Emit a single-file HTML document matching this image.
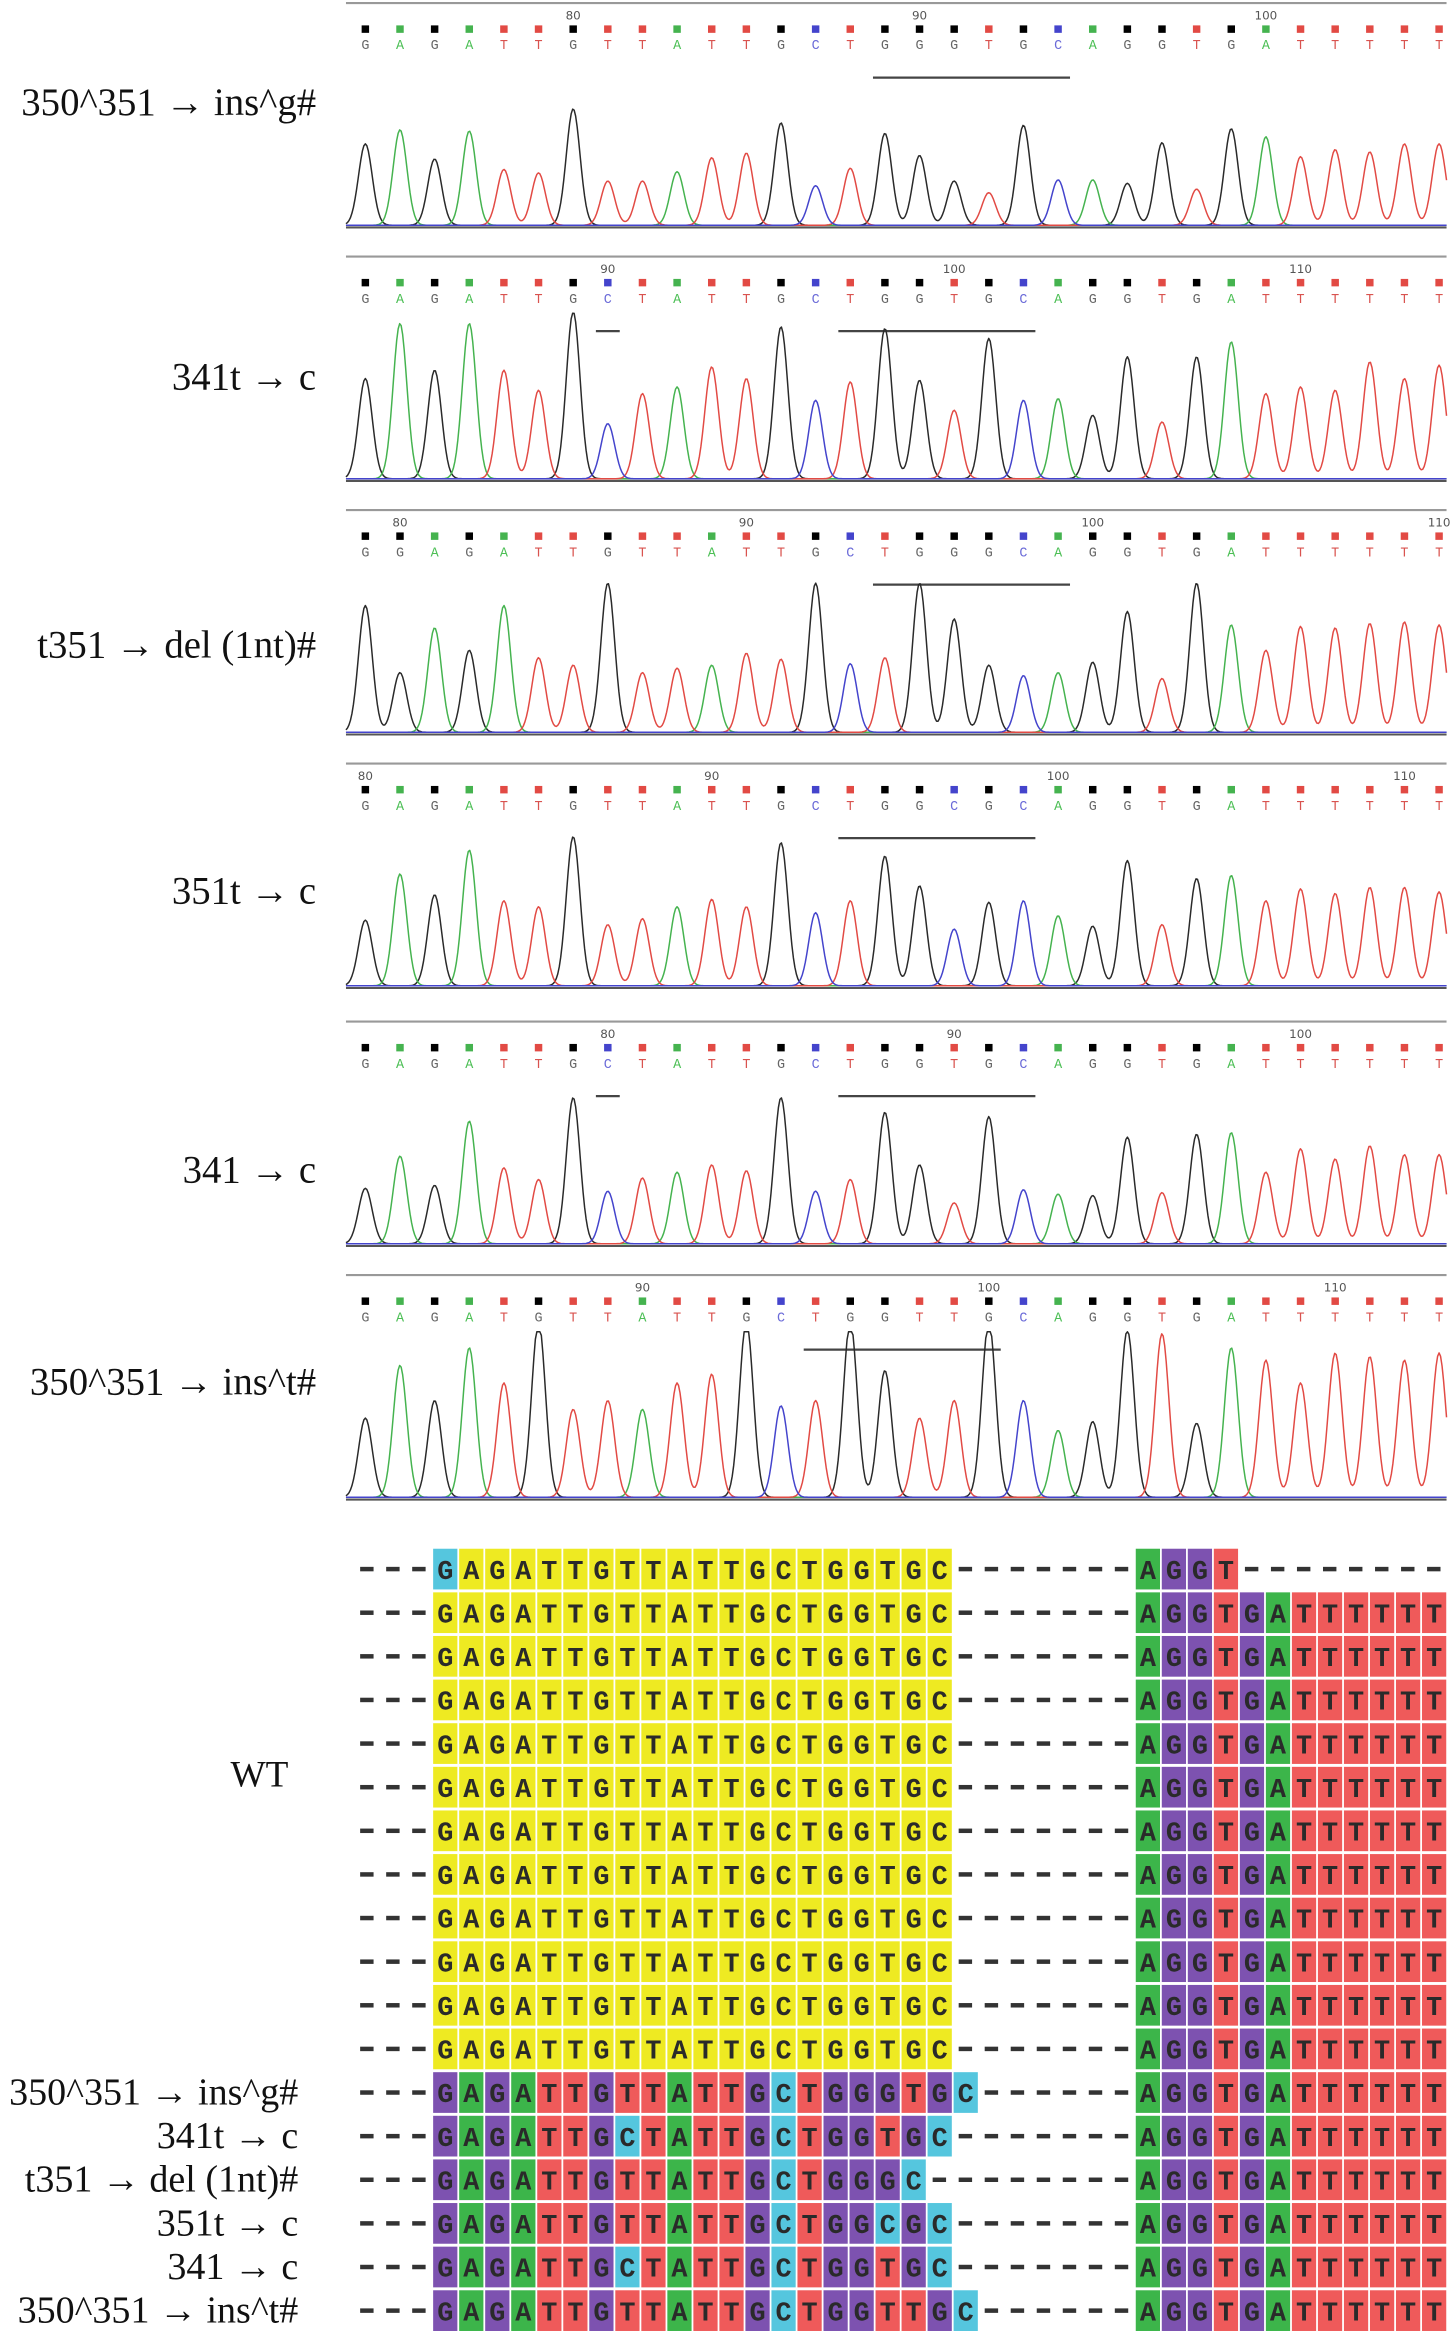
<!DOCTYPE html>
<html><head><meta charset="utf-8"><style>
html,body{margin:0;padding:0;background:#fff;}
svg{display:block;}
</style></head>
<body>
<svg id="fig" width="1454" height="2339" viewBox="0 0 975 1568.4" xmlns="http://www.w3.org/2000/svg">
<g id="chroms"></g>
<g id="align"></g>
</svg>
<script>
// ---------- chromatogram data ----------
const panelLabels = ["350^351 \u2192 ins^g#","341t \u2192 c","t351 \u2192 del (1nt)#","351t \u2192 c","341 \u2192 c","350^351 \u2192 ins^t#"];
const seq1 = "GAGATTGTTATTGCTGGGTGCAGGTGATTTTT";
const seq2 = "GAGATTGCTATTGCTGGTGCAGGTGATTTTTT";
const seq3 = "GGAGATTGTTATTGCTGGGCAGGTGATTTTTT";
const seq4 = "GAGATTGTTATTGCTGGCGCAGGTGATTTTTT";
const seq5 = "GAGATTGCTATTGCTGGTGCAGGTGATTTTTT";
const seq6 = "GAGATGTTATTGCTGGTTGCAGGTGATTTTTT";
const h1 = [.7,.82,.57,.81,.48,.45,1,.38,.38,.46,.58,.62,.88,.34,.49,.79,.6,.38,.28,.86,.39,.39,.36,.71,.31,.83,.76,.59,.65,.63,.7,.7];
const h2 = [.6,.93,.65,.93,.65,.53,1,.33,.51,.55,.67,.6,.91,.47,.58,.9,.59,.41,.84,.47,.48,.38,.73,.34,.73,.82,.51,.55,.53,.7,.6,.68];
const h3 = [.85,.4,.7,.55,.85,.5,.45,1,.4,.43,.45,.53,.49,1,.46,.5,1,.76,.45,.38,.4,.47,.81,.36,1,.72,.55,.71,.7,.73,.74,.72];
const h4 = [.44,.75,.61,.91,.57,.53,1,.41,.45,.53,.58,.53,.96,.49,.57,.87,.67,.38,.56,.57,.47,.4,.84,.41,.72,.74,.57,.65,.62,.66,.66,.63];
const h5 = [.38,.6,.4,.84,.52,.44,1,.36,.45,.49,.54,.5,1,.36,.44,.9,.54,.28,.87,.37,.34,.33,.73,.35,.75,.76,.49,.65,.58,.67,.61,.61];
const h6 = [.45,.75,.55,.85,.65,1,.5,.55,.5,.65,.7,1,.52,.55,1,.72,.45,.55,1,.55,.38,.43,.95,.93,.42,.85,.78,.65,.82,.8,.78,.82];
const tickLabels1 = ["80","90","100"];
const tickLabels2 = ["90","100","110"];
const tickLabels3 = ["80","90","100","110"];
const tickLabels4 = ["80","90","100","110"];
const tickLabels5 = ["80","90","100"];
const tickLabels6 = ["90","100","110"];
const tickIdx1 = [6,16,26];
const tickIdx2 = [7,17,27];
const tickIdx3 = [1,11,21,31];
const tickIdx4 = [0,10,20,30];
const tickIdx5 = [7,17,27];
const tickIdx6 = [8,18,28];
const mark1 = [[15,20]];
const mark2 = [[7,7],[14,19]];
const mark3 = [[15,20]];
const mark4 = [[14,19]];
const mark5 = [[7,7],[14,19]];
const mark6 = [[13,18]];

const panels = [
 {seq:seq1,h:h1,tl:tickLabels1,ti:tickIdx1,mk:mark1},
 {seq:seq2,h:h2,tl:tickLabels2,ti:tickIdx2,mk:mark2},
 {seq:seq3,h:h3,tl:tickLabels3,ti:tickIdx3,mk:mark3},
 {seq:seq4,h:h4,tl:tickLabels4,ti:tickIdx4,mk:mark4},
 {seq:seq5,h:h5,tl:tickLabels5,ti:tickIdx5,mk:mark5},
 {seq:seq6,h:h6,tl:tickLabels6,ti:tickIdx6,mk:mark6}
];
const panelTops=[2,172,342,512,685,855];
const panelAmp=[78,112,100,100,98,118];
const labelY=[77,261,441,606,793,935];
const peakCol={G:"#2a2a2a",A:"#45b34f",T:"#e24a44",C:"#4444cc"};
const letCol={G:"#666",A:"#4cbf55",T:"#d9534f",C:"#6a6ad8"};
const NS="http://www.w3.org/2000/svg";
function mk(tag,attrs,parent){const e=document.createElementNS(NS,tag);for(const k in attrs)e.setAttribute(k,attrs[k]);parent.appendChild(e);return e;}
const X0=245,X1=965;
function xAt(i,n){return X0+(X1-X0)*i/(n-1);}
const chroms=document.getElementById('chroms');
panels.forEach((p,pi)=>{
  const y0=panelTops[pi], base=y0+150, amp=panelAmp[pi], n=p.seq.length;
  const g=mk('g',{},chroms);
  
  
  const top=mk('line',{x1:232,x2:970,y1:y0,y2:y0,stroke:"#999","stroke-width":1.4},g);
  
  
  const lab=mk('text',{x:212,y:labelY[pi],"text-anchor":"end","font-family":"Liberation Serif, serif","font-size":26,fill:"#111"},g);
  lab.textContent=panelLabels[pi];
  
  
  p.tl.forEach((t,k)=>{
    const tx=mk('text',{x:xAt(p.ti[k],n),y:y0+11,"text-anchor":"middle","font-family":"DejaVu Sans, sans-serif","font-size":8,fill:"#555"},g);
    tx.textContent=t;
    
    
  });
  for(let i=0;i<n;i++){
    const b=p.seq[i], x=xAt(i,n);
    const sq=mk('rect',{x:x-2.5,y:y0+15,width:5,height:5,fill:b==='G'?'#000':peakCol[b]},g);
    
    
    const t=mk('text',{x:x,y:y0+31,"text-anchor":"middle","font-family":"Liberation Mono, monospace","font-size":9,fill:letCol[b]},g);
    t.textContent=b;
    
    
  }
  p.mk.forEach(r=>{
    const l=mk('line',{x1:xAt(r[0],n)-8,x2:xAt(r[1],n)+8,y1:y0+50,y2:y0+50,stroke:"#444","stroke-width":1.5},g);
    
    
  });
  ['G','A','T','C'].forEach(b=>{
    let d="";
    for(let x=232;x<=970;x+=1){
      let v=0;
      for(let i=0;i<n;i++){ if(p.seq[i]!==b)continue; const dx=x-xAt(i,n); v+=p.h[i]*Math.exp(-dx*dx/(2*4.6*4.6)); }
      const y=Math.max(base-1-v*amp,y0+38);
      d+=(d?"L":"M")+x+" "+y.toFixed(1);
    }
    const path=mk('path',{d:d,fill:"none",stroke:peakCol[b],"stroke-width":1,"stroke-linejoin":"round"},g);
    
    
  });
  const bl=mk('line',{x1:232,x2:970,y1:base+0.5,y2:base+0.5,stroke:"#555","stroke-width":1.4},g);
  
  
});

// ---------- alignment data ----------
const wtLeft = "GAGATTGTTATTGCTGGTGC";
const wtRight = "AGGTGATTTTTT";
const firstRight = "AGGT";
const mutLeft = ["GAGATTGTTATTGCTGGGTGC","GAGATTGCTATTGCTGGTGC","GAGATTGTTATTGCTGGGC","GAGATTGTTATTGCTGGCGC","GAGATTGCTATTGCTGGTGC","GAGATTGTTATTGCTGGTTGC"];
const mutLabels = ["350^351 \u2192 ins^g#","341t \u2192 c","t351 \u2192 del (1nt)#","351t \u2192 c","341 \u2192 c","350^351 \u2192 ins^t#"];
const boxCol={A:"#3cb54a",G:"#7d52b0",T:"#ef5a5a",C:"#55c6de"};
const align=document.getElementById('align');
const CX0=237.5, CW=17.45, RY0=1038.5, RH=29.25, BH=27.3;
function colX(c){return CX0+c*CW;}
function rowY(r){return RY0+r*RH;}
function dash(g,c,r){const d=mk('rect',{x:colX(c)+4,y:rowY(r)+BH/2-1.5,width:9,height:3,fill:"#333"},g);}
function cell(g,c,r,ch,fill){
  const b=mk('rect',{x:colX(c)+0.6,y:rowY(r),width:CW-1.2,height:BH,fill:fill},g);
  
  
  const t=mk('text',{x:colX(c)+CW/2,y:rowY(r)+BH/2+6.5,"text-anchor":"middle","font-family":"Liberation Mono, monospace","font-weight":"bold","font-size":18,fill:"#2a2a2a"},g);
  t.textContent=ch;
  
  
}
const totalRows=18;
for(let r=0;r<totalRows;r++){
  const g=mk('g',{},align);
  
  
  for(let c=0;c<3;c++)dash(g,c,r);
  let left, right;
  if(r<12){left=wtLeft; right=(r===0)?firstRight:wtRight;}
  else{left=mutLeft[r-12]; right=wtRight;}
  for(let i=0;i<left.length;i++){
    const ch=left[i];
    let fill = r<12 ? "#eeea22" : boxCol[ch];
    if(r===0&&i===0)fill="#55c6de";
    cell(g,3+i,r,ch,fill);
  }
  for(let c=3+left.length;c<30;c++)dash(g,c,r);
  for(let i=0;i<right.length;i++)cell(g,30+i,r,right[i],boxCol[right[i]]);
  for(let c=30+right.length;c<42;c++)dash(g,c,r);
  if(r>=12){
    const t=mk('text',{x:200,y:rowY(r)+BH/2+8,"text-anchor":"end","font-family":"Liberation Serif, serif","font-size":25.5,fill:"#111"},g);
    t.textContent=mutLabels[r-12];
    
    
  }
}
const wt=mk('text',{x:174,y:1198,"text-anchor":"middle","font-family":"Liberation Serif, serif","font-size":25,fill:"#111"},align);
wt.textContent="WT";


</script>
</body></html>
